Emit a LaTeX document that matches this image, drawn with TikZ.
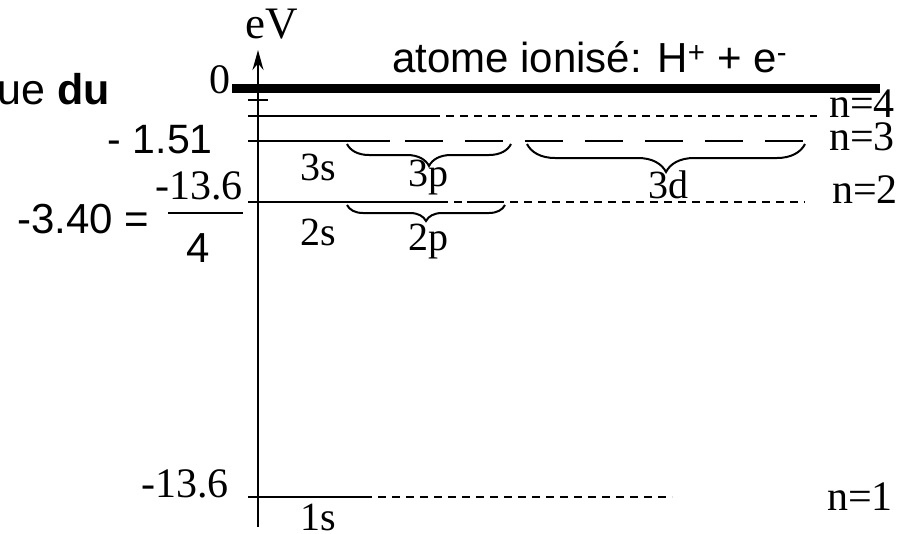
\documentclass[tikz,border=0pt]{standalone}
\usepackage{fontspec}
\setmainfont{Liberation Serif}
\newfontfamily\arialf{Liberation Sans}
\usetikzlibrary{decorations.pathreplacing,arrows.meta}
\begin{document}
\begin{tikzpicture}[x=1pt,y=-1pt,
  lvl/.style={line width=2pt},
  dsh/.style={line width=2pt, dash pattern=on 8pt off 6pt},
  ldsh/.style={line width=2pt, dash pattern=on 38pt off 22pt},
  brc/.style={line width=2pt, decorate, decoration={brace,mirror,amplitude=#1}},
  ser/.style={font=\fontsize{40}{40}\selectfont, inner sep=0pt},
  sans/.style={font=\arialf\fontsize{40}{40}\selectfont, inner sep=0pt}]
\useasboundingbox (0,0) rectangle (909,533);
% axis
\coordinate (axb) at (258,527);
\coordinate (axt) at (258,50);
\draw[line width=2pt, -{Stealth[length=20pt,width=11pt]}] (axb) -- (axt);
% ionisation level
\coordinate (i0) at (232,88);
\coordinate (i1) at (880,88);
\draw[line width=9pt] (i0) -- (i1);
% small tick
\draw[lvl] (248,100) -- (268,100);
% n=4
\draw[lvl] (248,116) -- (432,116);
\draw[dsh] (432,116) -- (817,116);
% n=3
\draw[lvl] (248,141) -- (390,141);
\draw[ldsh] (405,141) -- (805,141);
% n=2
\draw[lvl] (248,202) -- (440,202);
\draw[dsh] (440,202) -- (805,202);
\draw[lvl] (467,202) -- (503,202);
% n=1
\draw[lvl] (248,497) -- (372,497);
\draw[dsh] (378,497) -- (672,497);
% braces
\draw[brc=22pt] (347,144) -- (511,144);
\draw[brc=28pt] (527,144) -- (805,144);
\draw[brc=16pt] (347,205) -- (505,205);
% labels
\node[ser, font=\fontsize{45}{45}\selectfont, anchor=base] (ev) at (272,38) {eV};
\node[ser, font=\fontsize{42}{42}\selectfont, anchor=base east] (zero) at (231,93) {0};
\node[sans, font=\arialf\fontsize{42}{42}\selectfont, anchor=base west] (ion) at (392,72) {atome ionisé: H\textsuperscript{+} + e\textsuperscript{-}};
\node[sans, font=\arialf\fontsize{43}{43}\selectfont, anchor=base east] (ued) at (110,104) {ue \textbf{du}};
\node[sans, font=\arialf\fontsize{41}{41}\selectfont, anchor=base east] (m151) at (213,153) {- 1.51};
\node[sans, font=\arialf\fontsize{42}{42}\selectfont, anchor=base west] (m340) at (17,233) {-3.40 =};
\node[ser, font=\fontsize{42}{42}\selectfont, anchor=base east] (num) at (243,199) {-13.6};
\draw[lvl] (168,213) -- (243,213);
\node[sans, font=\arialf\fontsize{42}{42}\selectfont, anchor=base] (den) at (198,262) {4};
\node[ser, anchor=base] (s3) at (318,180) {3s};
\node[ser, anchor=base] (p3) at (428,186) {3p};
\node[ser, anchor=base] (d3) at (668,198) {3d};
\node[ser, anchor=base] (s2) at (318,245) {2s};
\node[ser, anchor=base] (p2) at (428,250) {2p};
\node[ser, anchor=base] (s1) at (318,530) {1s};
\node[ser, font=\fontsize{42}{42}\selectfont, anchor=base east] (m136) at (229,497) {-13.6};
\node[ser, font=\fontsize{42}{42}\selectfont, anchor=base west] (n1) at (827,510) {n=1};
\node[ser, font=\fontsize{42}{42}\selectfont, anchor=base west] (n2) at (832,203) {n=2};
\node[ser, font=\fontsize{42}{42}\selectfont, anchor=base west] (n3) at (829,150) {n=3};
\node[ser, font=\fontsize{42}{42}\selectfont, anchor=base west] (n4) at (829,117) {n=4};
\end{tikzpicture}
\end{document}
